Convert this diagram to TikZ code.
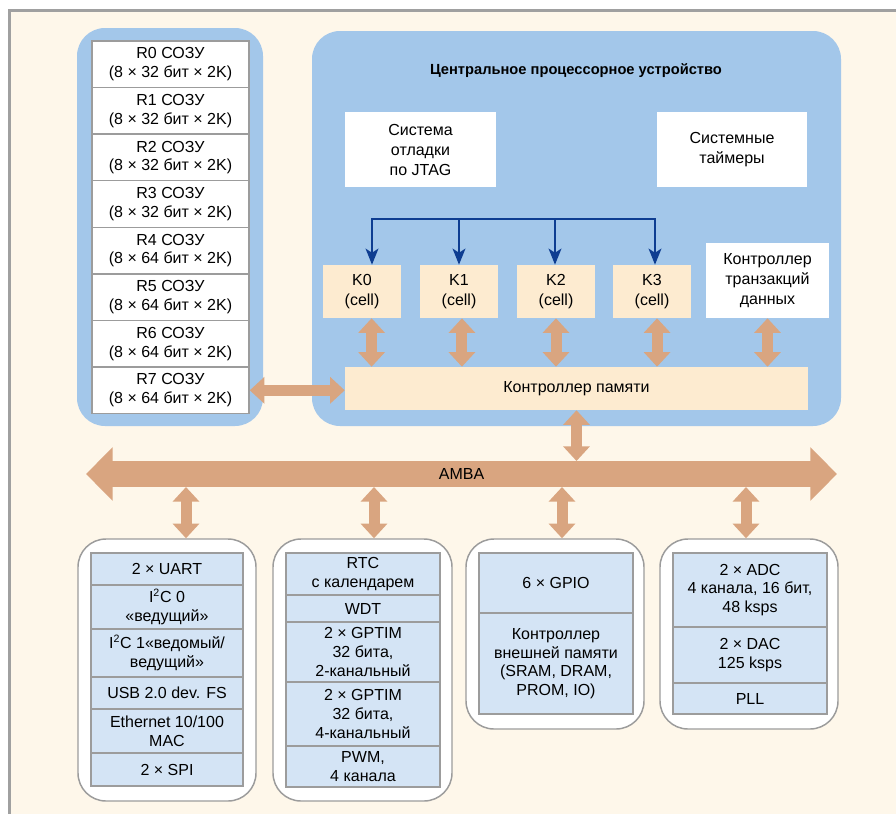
\documentclass[tikz,border=0pt]{standalone}
\usepackage{fontspec}
\setmainfont{Liberation Sans}
\usetikzlibrary{arrows.meta,fit}
\definecolor{bg}{HTML}{FEF7EA}
\definecolor{blk}{HTML}{A3C7EA}
\definecolor{kfill}{HTML}{FDEBD0}
\definecolor{cellblue}{HTML}{D4E4F5}
\definecolor{orng}{HTML}{D9A580}
\definecolor{dblue}{HTML}{0E3D91}
\definecolor{edge}{HTML}{9C9C9C}
\definecolor{framegray}{HTML}{A0A0A0}
% shape from corner points, text in its own node at the centre
\newcommand\mybox[5][]{\node[#2, fit={#4}] (#3) {}; \node[txt,#1] (#3-t) at (#3.center) {#5};}
\begin{document}
\begin{tikzpicture}[x=0.75pt,y=-0.75pt,
  txt/.style={font=\fontsize{12pt}{14pt}\selectfont, align=center, text=black, inner sep=0pt},
  cputxt/.style={font=\fontsize{12pt}{15pt}\selectfont},
  box/.style={inner sep=0pt},
  ramcell/.style={box, fill=white, draw=edge, line width=1.1pt},
  cell/.style={box, fill=cellblue, draw=edge, line width=1.1pt},
  kbox/.style={box, fill=kfill},
  wbox/.style={box, fill=white},
  block/.style={inner sep=0pt, fill=blk, rounded corners=21pt},
  group/.style={inner sep=0pt, fill=white, draw=edge, line width=1.1pt, rounded corners=21pt},
  dbl/.style={orng, line width=8.25pt, arrows={Triangle[width=19.5pt,length=11pt]-Triangle[width=19.5pt,length=11pt]}},
  busarr/.style={orng, line width=19.5pt, arrows={Triangle[width=39pt,length=20pt]-Triangle[width=39pt,length=20pt]}},
  blueline/.style={dblue, line width=1.8pt},
  bluearr/.style={blueline, arrows={-Stealth[width=9.5pt,length=12pt,inset=3pt]}},
  blueboth/.style={blueline, arrows={Stealth[width=9.5pt,length=12pt,inset=3pt]-Stealth[width=9.5pt,length=12pt,inset=3pt]}},
]
\useasboundingbox (0,0) rectangle (896,814);
% background
\fill[white] (0,0) rectangle (896,814);
\fill[bg] (9,10) rectangle (896,814);
\draw[framegray, line width=1.7pt] (9.6,814) -- (9.6,10.6) -- (896,10.6);

% big blocks
\node[block, fit={(77,28)(263,426)}] (ramblk) {};
\node[block, fit={(312,31)(841,426)}] (cpu) {};
\node[txt, font=\fontsize{11pt}{13pt}\selectfont\bfseries] (title) at (576,71) {Центральное процессорное устройство};

% RAM cells
\foreach \i/\b in {0/32,1/32,2/32,3/32,4/64,5/64,6/64,7/64} {
  \pgfmathsetmacro\ya{41+46.575*\i}
  \pgfmathsetmacro\yb{41+46.575*(\i+1)}
  \mybox{ramcell}{r\i}{(92,\ya)(249,\yb)}{R\i{} СОЗУ\\(8 × \b{} бит × 2K)}
}

% CPU internals
\mybox[cputxt]{wbox}{jtag}{(345,112)(496,187)}{Система\\отладки\\по JTAG}
\mybox[cputxt]{wbox}{timers}{(657,112)(807,187)}{Системные\\таймеры}
\mybox[cputxt]{kbox}{k0}{(323,265)(401,318)}{K0\\(cell)}
\mybox[cputxt]{kbox}{k1}{(420,265)(498,318)}{K1\\(cell)}
\mybox[cputxt]{kbox}{k2}{(517,265)(595,318)}{K2\\(cell)}
\mybox[cputxt]{kbox}{k3}{(613,265)(691,318)}{K3\\(cell)}
\mybox[cputxt]{wbox}{trans}{(706,243)(829,318)}{Контроллер\\транзакций\\данных}
\mybox{kbox}{mem}{(345,367)(808,410)}{Контроллер памяти}

% blue distribution
\coordinate (j0) at (372,219);
\coordinate (j1) at (459,219);
\coordinate (j2) at (555,219);
\coordinate (j3) at (655,219);
\draw[blueboth] (j0 |- k0.north) -- (j0) -- (j3) -- (j3 |- k3.north);
\draw[bluearr] (j1) -- (j1 |- k1.north);
\draw[bluearr] (j2) -- (j2 |- k2.north);

% orange links inside CPU
\draw[dbl] ([xshift=7.2pt]k0.south) -- ([xshift=7.2pt]k0.south |- mem.north);
\draw[dbl] ([xshift=2.2pt]k1.south) -- ([xshift=2.2pt]k1.south |- mem.north);
\draw[dbl] (k2.south) -- (k2.south |- mem.north);
\draw[dbl] ([xshift=3.8pt]k3.south) -- ([xshift=3.8pt]k3.south |- mem.north);
\draw[dbl] (trans.south) -- (trans.south |- mem.north);
\draw[dbl] (r7.east) -- (r7.east -| mem.west);

% AMBA bus
\coordinate (bustop) at (575,461);
\coordinate (busL) at (86,474);
\coordinate (busR) at (837,474);
\draw[dbl] (mem.south) -- (mem.south |- bustop);
\draw[busarr] (busL) -- (busR) node[midway, txt] (amba) {AMBA};

% peripheral groups
\node[group, fit={(78,539)(256,801)}] (g1) {};
\node[group, fit={(273,539)(452,801)}] (g2) {};
\node[group, fit={(466,539)(644,729)}] (g3) {};
\node[group, fit={(660,539)(838,729)}] (g4) {};

\coordinate (b1) at (186,487);
\coordinate (b2) at (374,487);
\coordinate (b3) at (562,487);
\coordinate (b4) at (746,487);
\draw[dbl] (b1) -- (b1 |- g1.north);
\draw[dbl] (b2) -- (b2 |- g2.north);
\draw[dbl] (b3) -- (b3 |- g3.north);
\draw[dbl] (b4) -- (b4 |- g4.north);

% group 1 cells
\mybox{cell}{uart}{(91,553)(243,585)}{2 × UART}
\mybox{cell}{i2c0}{(91,585)(243,629)}{I\textsuperscript{2}C 0\\«ведущий»}
\mybox{cell}{i2c1}{(91,629)(243,677)}{I\textsuperscript{2}C 1«ведомый/\\ведущий»}
\mybox{cell}{usb}{(91,677)(243,709)}{USB 2.0 dev. FS}
\mybox{cell}{eth}{(91,709)(243,753)}{Ethernet 10/100\\MAC}
\mybox{cell}{spi}{(91,753)(243,786)}{2 × SPI}

% group 2 cells
\mybox{cell}{rtc}{(286,553)(440,595)}{RTC\\с календарем}
\mybox{cell}{wdt}{(286,595)(440,622)}{WDT}
\mybox{cell}{gpt2}{(286,622)(440,682)}{2 × GPTIM\\32 бита,\\2-канальный}
\mybox{cell}{gpt4}{(286,682)(440,746)}{2 × GPTIM\\32 бита,\\4-канальный}
\mybox{cell}{pwm}{(286,746)(440,787)}{PWM,\\4 канала}

% group 3 cells
\mybox{cell}{gpio}{(479,553)(633,613)}{6 × GPIO}
\mybox{cell}{emc}{(479,613)(633,714)}{Контроллер\\внешней памяти\\(SRAM, DRAM,\\PROM, IO)}

% group 4 cells
\mybox{cell}{adc}{(673,553)(827,627)}{2 × ADC\\4 канала, 16 бит,\\48 ksps}
\mybox{cell}{dac}{(673,627)(827,683)}{2 × DAC\\125 ksps}
\mybox{cell}{pll}{(673,683)(827,714)}{PLL}
\end{tikzpicture}
\end{document}
